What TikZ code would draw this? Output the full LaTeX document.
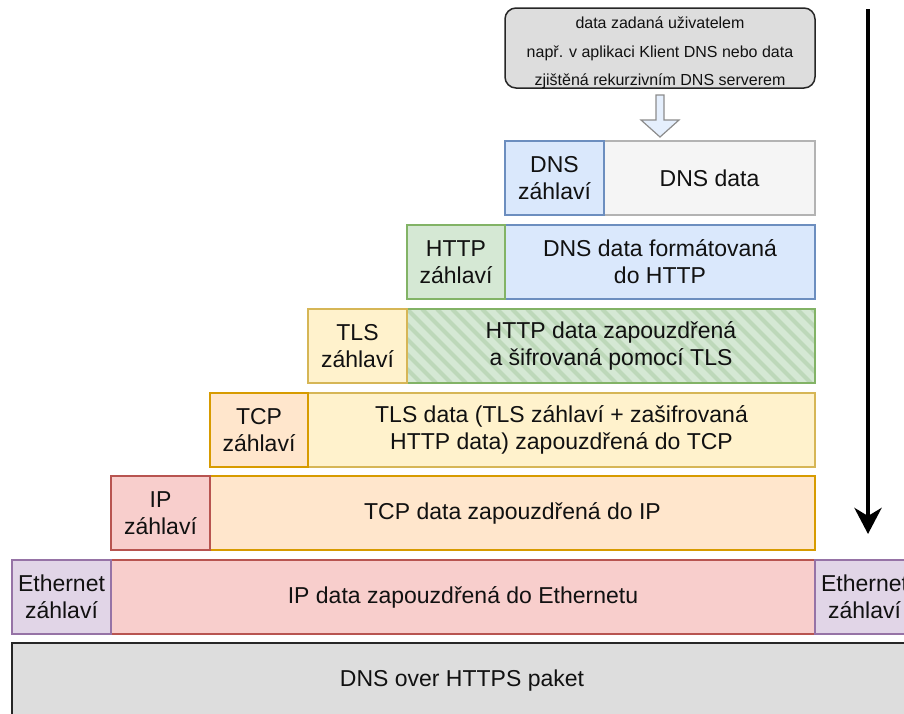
\documentclass[tikz,border=0pt]{standalone}
\usepackage{fontspec}
\setmainfont{Liberation Sans}
\usetikzlibrary{arrows.meta}
\definecolor{blueF}{HTML}{DAE8FC}\definecolor{blueD}{HTML}{6C8EBF}
\definecolor{greenF}{HTML}{D5E8D4}\definecolor{greenD}{HTML}{82B366}
\definecolor{greenH}{HTML}{BDD8B9}
\definecolor{yellowF}{HTML}{FFF2CC}\definecolor{yellowD}{HTML}{D6B656}
\definecolor{orangeF}{HTML}{FFE6CC}\definecolor{orangeD}{HTML}{D79B00}
\definecolor{redF}{HTML}{F8CECC}\definecolor{redD}{HTML}{B85450}
\definecolor{purpleF}{HTML}{E1D5E7}\definecolor{purpleD}{HTML}{9673A6}
\definecolor{grayF}{HTML}{F5F5F5}\definecolor{grayD}{HTML}{B3B3B3}
\definecolor{boxF}{HTML}{DDDDDD}\definecolor{txt}{HTML}{111111}
\begin{document}
\begin{tikzpicture}[x=1pt,y=-1pt,
  cell/.style={draw, line width=1.5pt, inner sep=0pt, outer sep=0pt, anchor=north west,
    align=center, text=txt, minimum height=74pt, font=\fontsize{23}{27}\selectfont},
  hatchline/.style={draw=greenH, line width=4pt},
  topbox/.style={draw=black!85, fill=boxF, line width=1.5pt, rounded corners=11pt, inner sep=0pt,
    outer sep=0pt, anchor=north west, minimum width=310pt, minimum height=80pt},
  toptext/.style={align=center, text=txt, font=\fontsize{16}{28.5}\selectfont, inner sep=0pt},
  blockarrow/.style={draw=black!45, fill=blueF!70!white, line width=1.2pt, line join=miter},
  flowarrow/.style={line width=4.5pt, -{Stealth[length=26pt,width=27pt,inset=8pt]}},
]
\useasboundingbox (0,0) rectangle (904,713);

% source box
\node[topbox] (src) at (505,8) {};
\node[toptext, yshift=-5pt] (srctext) at (src.center) {data zadaná uživatelem\\např. v aplikaci Klient DNS nebo data\\zjištěná rekurzivním DNS serverem};

% block arrow
\draw[blockarrow] (656,95) -- (664,95) -- (664,120) -- (679,120) -- (660,137) -- (641,120) -- (656,120) -- cycle;

% DNS row
\node[cell, fill=grayF, draw=grayD, minimum width=211pt] (dnsdata) at (604,141) {DNS data};
\node[cell, fill=blueF, draw=blueD, minimum width=99pt] (dnshdr) at (505,141) {DNS\\záhlaví};

% HTTP row
\node[cell, fill=blueF, draw=blueD, minimum width=310pt] (httpdata) at (505,225) {DNS data formátovaná\\do HTTP};
\node[cell, fill=greenF, draw=greenD, minimum width=98pt] (httphdr) at (407,225) {HTTP\\záhlaví};

% TLS row
\node[cell, fill=greenF, draw=none, minimum width=408pt] (tlsdata) at (407,309) {};
\begin{scope}
  \clip (tlsdata.north west) rectangle (tlsdata.south east);
  \foreach \k in {-90,-75,...,420} \draw[hatchline] (407+\k,309) -- ++(74,74);
\end{scope}
\draw[greenD, line width=1.5pt] (tlsdata.north west) rectangle (tlsdata.south east);
\node[align=center, text=txt, font=\fontsize{23}{27}\selectfont] (tlstext) at (tlsdata.center) {HTTP data zapouzdřená\\a šifrovaná pomocí TLS};
\node[cell, fill=yellowF, draw=yellowD, minimum width=99pt] (tlshdr) at (308,309) {TLS\\záhlaví};

% TCP row
\node[cell, fill=yellowF, draw=yellowD, minimum width=507pt] (tcpdata) at (308,393) {TLS data (TLS záhlaví + zašifrovaná\\HTTP data) zapouzdřená do TCP};
\node[cell, fill=orangeF, draw=orangeD, minimum width=98pt] (tcphdr) at (210,393) {TCP\\záhlaví};

% IP row
\node[cell, fill=orangeF, draw=orangeD, minimum width=605pt] (ipdata) at (210,476) {TCP data zapouzdřená do IP};
\node[cell, fill=redF, draw=redD, minimum width=99pt] (iphdr) at (111,476) {IP\\záhlaví};

% Ethernet row
\node[cell, fill=redF, draw=redD, minimum width=704pt] (ethdata) at (111,560) {IP data zapouzdřená do Ethernetu};
\node[cell, fill=purpleF, draw=purpleD, minimum width=99pt] (ethhdr) at (12,560) {Ethernet\\záhlaví};
\node[cell, fill=purpleF, draw=purpleD, minimum width=99pt] (ethtrl) at (815,560) {Ethernet\\záhlaví};

% packet
\node[cell, fill=boxF, draw=black!85, minimum width=900pt, minimum height=90pt] (pkt) at (12,643) {};
\node[text=txt, font=\fontsize{23}{27}\selectfont] (pkttext) at (462,681) {DNS over HTTPS paket};

% flow arrow
\coordinate (fa) at (868,9);
\coordinate (fb) at (868,534);
\draw[flowarrow] (fa) -- (fb);
\end{tikzpicture}
\end{document}
